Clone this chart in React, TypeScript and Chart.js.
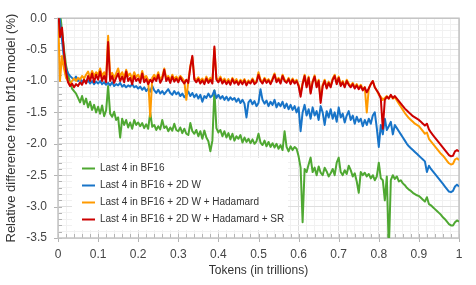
import React, { useEffect, useRef } from 'react';
import { Chart, registerables } from 'chart.js';

Chart.register(...registerables);

// ---- data ----
const TOKENS = [
  0, 0.005, 0.01, 0.015, 0.02, 0.025, 0.03, 0.035, 0.04, 0.045, 0.05, 0.055, 0.06, 0.065, 0.07, 0.075, 0.08, 0.085, 0.09, 0.095,
  0.1, 0.105, 0.11, 0.115, 0.12, 0.125, 0.13, 0.135, 0.14, 0.145, 0.15, 0.155, 0.16, 0.165, 0.17, 0.175, 0.18, 0.185, 0.19, 0.195,
  0.2, 0.205, 0.21, 0.215, 0.22, 0.225, 0.23, 0.235, 0.24, 0.245, 0.25, 0.255, 0.26, 0.265, 0.27, 0.275, 0.28, 0.285, 0.29, 0.295,
  0.3, 0.305, 0.31, 0.315, 0.32, 0.325, 0.33, 0.335, 0.34, 0.345, 0.35, 0.355, 0.36, 0.365, 0.37, 0.375, 0.38, 0.385, 0.39, 0.395,
  0.4, 0.405, 0.41, 0.415, 0.42, 0.425, 0.43, 0.435, 0.44, 0.445, 0.45, 0.455, 0.46, 0.465, 0.47, 0.475, 0.48, 0.485, 0.49, 0.495,
  0.5, 0.505, 0.51, 0.515, 0.52, 0.525, 0.53, 0.535, 0.54, 0.545, 0.55, 0.555, 0.56, 0.565, 0.57, 0.575, 0.58, 0.585, 0.59, 0.595,
  0.6, 0.605, 0.61, 0.615, 0.62, 0.625, 0.63, 0.635, 0.64, 0.645, 0.65, 0.655, 0.66, 0.665, 0.67, 0.675, 0.68, 0.685, 0.69, 0.695,
  0.7, 0.705, 0.71, 0.715, 0.72, 0.725, 0.73, 0.735, 0.74, 0.745, 0.75, 0.755, 0.76, 0.765, 0.77, 0.775, 0.78, 0.785, 0.79, 0.795,
  0.8, 0.805, 0.81, 0.815, 0.82, 0.825, 0.83, 0.835, 0.84, 0.845, 0.85, 0.855, 0.86, 0.865, 0.87, 0.875, 0.88, 0.885, 0.89, 0.895,
  0.9, 0.905, 0.91, 0.915, 0.92, 0.925, 0.93, 0.935, 0.94, 0.945, 0.95, 0.955, 0.96, 0.965, 0.97, 0.975, 0.98, 0.985, 0.99, 0.995,
  1.0,
];

const GREEN_BF16 = [
  0.3, 0.1, -0.2, -0.5, -0.75, -0.9, -1.02, -1.12, -1.16, -1.2, -1.27, -1.34, -1.24, -1.37, -1.28, -1.42, -1.33, -1.46, -1.38, -1.5,
  -1.41, -1.52, -1.39, -1.56, -1.47, -1.08, -1.52, -1.57, -1.49, -1.62, -1.58, -1.9, -1.6, -1.7, -1.62, -1.74, -1.66, -1.76, -1.62, -1.7,
  -1.66, -1.72, -1.67, -1.75, -1.69, -1.76, -1.5, -1.73, -1.7, -1.78, -1.72, -1.77, -1.62, -1.75, -1.72, -1.8, -1.74, -1.79, -1.68, -1.78,
  -1.8, -1.74, -1.83, -1.76, -1.84, -1.86, -1.67, -1.8, -1.84, -1.78, -1.88, -1.8, -1.92, -1.79, -1.9, -1.96, -2.12, -1.95, -1.15, -1.75,
  -1.82, -1.78, -1.88, -1.8, -1.9, -1.83, -1.93, -1.84, -1.95, -1.88, -1.92, -1.86, -1.98, -1.9, -1.97, -1.92, -1.99, -1.93, -2.0, -1.96,
  -1.84, -1.98, -2.02, -1.95, -2.04, -1.97, -2.05, -1.99, -2.06, -2.0, -2.08, -2.02, -2.1, -1.8, -2.05, -2.12, -2.04, -2.1, -2.05, -2.08,
  -2.2, -2.38, -3.25, -2.4, -2.45, -2.33, -2.22, -2.45, -2.38, -2.5, -2.36, -2.46, -2.5, -2.38, -2.44, -2.52, -2.47, -2.4, -2.5, -2.3,
  -2.22, -2.45, -2.5, -2.42, -2.48, -2.35, -2.42, -2.52, -2.47, -2.6, -2.78, -2.45, -2.5, -2.46, -2.52, -2.48, -2.55, -2.5, -2.58, -2.52,
  -2.3, -2.55, -2.58, -2.9, -2.52, -3.7, -2.58, -2.5, -2.56, -2.52, -2.6, -2.58, -2.63, -2.66, -2.7, -2.73, -2.75, -2.78, -2.8, -2.82,
  -2.83, -2.86, -2.89, -2.92, -2.85, -2.96, -2.98, -3.01, -3.04, -3.07, -3.1, -3.13, -3.17, -3.2, -3.24, -3.28, -3.3, -3.3, -3.25, -3.22,
  -3.24,
];

const BLUE_2DW = [
  0.3, -0.05, -0.35, -0.65, -0.8, -0.88, -0.92, -0.95, -0.98, -0.93, -1.0, -0.96, -1.02, -0.98, -1.03, -0.99, -1.04, -1.0, -1.05, -1.01,
  -1.04, -1.0, -1.05, -1.02, -1.06, -1.03, -1.07, -1.02, -1.08, -1.05, -1.07, -1.03, -1.09, -1.06, -1.1, -1.07, -1.09, -1.05, -1.1, -1.08,
  -1.12, -1.09, -1.14, -1.1, -1.16, -1.12, -1.17, -1.08, -1.15, -1.19, -1.14, -1.2, -1.16, -1.21, -1.17, -1.13, -1.19, -1.22, -1.16, -1.21,
  -1.18, -1.24, -1.2, -1.26, -1.22, -1.17, -1.24, -1.19, -1.26, -1.21, -1.28, -1.22, -1.33, -1.24, -1.27, -1.2, -1.26, -1.23, -1.15, -1.27,
  -1.22, -1.28, -1.24, -1.3, -1.25, -1.31, -1.26, -1.3, -1.27, -1.33, -1.28, -1.35, -1.3, -1.36, -1.58, -1.34, -1.3, -1.37, -1.32, -1.4,
  -1.35, -1.13, -1.3, -1.36, -1.31, -1.4, -1.33, -1.38, -1.3, -1.42, -1.35, -1.4, -1.33, -1.43, -1.36, -1.45, -1.38, -1.46, -1.4, -1.5,
  -1.42, -1.8, -1.5, -1.38, -1.55, -1.45, -1.6, -1.42, -1.55, -1.48, -1.62, -1.4, -1.5, -1.7, -1.48, -1.58, -1.45, -1.6, -1.5, -1.65,
  -1.42, -1.58, -1.52, -1.66, -1.55, -1.48, -1.62, -1.55, -1.68, -1.57, -1.65, -1.6, -1.72, -1.62, -1.7, -1.6, -1.68, -1.55, -1.5, -1.75,
  -2.05, -1.7, -1.85, -1.6, -1.78, -1.72, -1.65, -1.85, -1.7, -1.75, -1.8, -1.85, -1.9, -1.95, -2.0, -2.04, -2.07, -2.1, -2.13, -2.16,
  -2.19, -2.22, -2.25, -2.28, -2.45, -2.35, -2.4, -2.44, -2.48, -2.52, -2.56, -2.6, -2.64, -2.68, -2.72, -2.76, -2.77, -2.75, -2.68, -2.65,
  -2.68,
];

const ORANGE_HADAMARD = [
  0.1, -1.0, -0.6, -0.8, -0.95, -1.0, -1.04, -1.0, -0.96, -1.0, -0.95, -0.98, -0.92, -0.96, -0.9, -0.85, -0.94, -0.84, -0.92, -0.86,
  -0.9, -0.8, -0.92, -0.86, -0.95, -0.28, -0.92, -0.87, -0.95, -0.88, -0.8, -0.93, -0.86, -0.95, -0.82, -0.92, -0.88, -0.97, -0.86, -0.94,
  -0.9, -0.97, -0.84, -0.96, -0.92, -0.99, -1.57, -0.95, -0.9, -0.96, -0.86, -0.98, -0.93, -0.8, -0.96, -0.92, -0.99, -0.9, -0.97, -0.93,
  -0.98, -0.92, -0.96, -1.0, -1.3, -1.0, -0.76, -0.62, -0.95, -0.99, -0.94, -1.0, -0.96, -1.02, -0.93, -1.0, -0.95, -1.01, -0.48, -0.95,
  -0.99, -0.93, -1.01, -0.96, -1.02, -0.97, -1.03, -0.95, -1.01, -0.97, -1.04, -0.98, -1.02, -0.97, -1.04, -0.99, -1.02, -0.96, -1.02, -1.0,
  -0.86, -0.98, -1.01, -0.95, -1.0, -0.97, -1.03, -0.96, -0.88, -1.0, -0.95, -1.02, -0.9, -0.98, -1.01, -0.95, -1.03, -0.96, -1.02, -0.98,
  -1.06, -1.2, -1.03, -0.9, -1.08, -0.93, -1.18, -1.0, -0.91, -1.08, -0.98, -1.3, -1.06, -0.98, -1.1, -1.01, -1.08, -0.96, -0.9, -1.03,
  -0.93, -1.06, -1.0, -1.08, -0.98, -1.04, -1.08, -1.03, -1.1, -1.05, -1.11, -1.06, -1.13, -1.1, -1.5, -1.12, -1.05, -1.0, -1.1, -1.15,
  -1.22, -1.25, -1.3, -1.27, -1.24, -1.28, -1.23, -1.28, -1.26, -1.31, -1.36, -1.41, -1.46, -1.51, -1.55, -1.59, -1.62, -1.65, -1.68, -1.7,
  -1.72, -1.76, -1.8, -1.84, -1.82, -1.92, -1.96, -2.0, -2.04, -2.08, -2.12, -2.16, -2.19, -2.23, -2.27, -2.31, -2.33, -2.32, -2.25, -2.23,
  -2.26,
];

const RED_HADAMARD_SR = [
  0.2, -0.3, -0.15, -0.55, -0.85, -1.02, -1.08, -1.04, -1.1, -1.05, -1.08, -1.02, -1.06, -0.98, -1.04, -0.92, -1.0, -0.88, -1.02, -0.9,
  -0.98, -0.85, -1.0, -0.92, -1.02, -0.38, -1.0, -0.92, -1.03, -0.95, -0.88, -1.0, -0.93, -1.02, -0.85, -1.0, -0.95, -1.05, -0.92, -1.0,
  -0.96, -1.03, -0.88, -1.02, -0.97, -1.05, -0.98, -1.02, -0.95, -1.0, -0.9, -1.03, -0.97, -0.82, -1.0, -0.95, -1.03, -0.93, -1.01, -0.96,
  -1.02, -0.94, -1.0, -1.04, -0.98, -1.03, -0.78, -0.6, -0.98, -1.02, -0.97, -1.04, -0.99, -1.05, -0.96, -1.03, -0.98, -1.04, -0.45, -0.98,
  -1.02, -0.96, -1.04, -0.99, -1.05, -1.0, -1.06, -0.97, -1.04, -1.0, -1.06, -1.0, -1.05, -0.99, -1.07, -1.01, -1.04, -0.98, -1.05, -1.02,
  -0.9, -1.0, -1.04, -0.97, -1.03, -0.99, -1.05, -0.98, -0.9, -1.02, -0.97, -1.04, -0.92, -1.0, -1.03, -0.97, -1.05, -0.98, -1.04, -1.0,
  -1.08, -1.25, -1.05, -0.92, -1.1, -0.95, -1.2, -1.02, -0.93, -1.1, -1.0, -1.35, -1.08, -1.0, -1.12, -1.03, -1.1, -0.98, -0.92, -1.05,
  -0.95, -1.08, -1.02, -1.1, -1.0, -1.06, -1.1, -1.05, -1.12, -1.07, -1.13, -1.08, -1.15, -1.1, -1.18, -1.12, -1.05, -1.0, -1.1, -1.15,
  -1.2, -1.28, -1.76, -1.3, -1.25, -1.28, -1.22, -1.27, -1.24, -1.28, -1.32, -1.36, -1.4, -1.44, -1.47, -1.5, -1.53, -1.56, -1.58, -1.6,
  -1.62, -1.65, -1.68, -1.71, -1.68, -1.77, -1.82, -1.86, -1.9, -1.94, -1.98, -2.02, -2.06, -2.1, -2.14, -2.18, -2.2, -2.19, -2.12, -2.1,
  -2.12,
];

const SERIES_LABELS = [
  'Last 4 in BF16',
  'Last 4 in BF16 + 2D W',
  'Last 4 in BF16 + 2D W + Hadamard',
  'Last 4 in BF16 + 2D W + Hadamard + SR',
];
const SERIES_COLORS = ['#4fa832', '#1874c8', '#ff9a00', '#cc0000'];

const X_TICK_VALUES = [0, 0.1, 0.2, 0.3, 0.4, 0.5, 0.6, 0.7, 0.8, 0.9, 1];
const X_TICK_LABELS = ['0', '0.1', '0.2', '0.3', '0.4', '0.5', '0.6', '0.7', '0.8', '0.9', '1'];
const Y_TICK_VALUES = [0, -0.5, -1, -1.5, -2, -2.5, -3, -3.5];
const Y_TICK_LABELS = ['0.0', '-0.5', '-1.0', '-1.5', '-2.0', '-2.5', '-3.0', '-3.5'];

const X_TITLE = 'Tokens (in trillions)';
const Y_TITLE = 'Relative difference from bf16 model (%)';

const FONT = "'Liberation Sans', Arial, sans-serif";

const isMajor = (v: number, list: number[]) => list.some((m) => Math.abs(m - v) < 1e-6);

const framePlugin = {
  id: 'frameAndTicks',
  beforeDatasetsDraw(chart: any) {
    const { ctx, chartArea } = chart;
    const { left, right, top, bottom } = chartArea;
    const xs = chart.scales.x;
    const ys = chart.scales.y;
    ctx.save();
    ctx.strokeStyle = '#b4b4b4';
    ctx.lineWidth = 1;
    ctx.beginPath();
    xs.ticks.forEach((t: any) => {
      const px = Math.round(xs.getPixelForValue(t.value)) + 0.5;
      const major = isMajor(t.value, X_TICK_VALUES);
      ctx.moveTo(px, bottom - 4);
      ctx.lineTo(px, major ? bottom + 4 : bottom);
    });
    ys.ticks.forEach((t: any) => {
      const py = Math.round(ys.getPixelForValue(t.value)) + 0.5;
      const major = isMajor(t.value, Y_TICK_VALUES);
      ctx.moveTo(left + 4, py);
      ctx.lineTo(major ? left - 4 : left, py);
    });
    ctx.stroke();
    ctx.strokeStyle = '#c4c4c4';
    ctx.lineWidth = 1.5;
    ctx.strokeRect(left, top, right - left, bottom - top);
    ctx.restore();
  },
};

const legendPlugin = {
  id: 'insideLegend',
  afterDatasetsDraw(chart: any) {
    const { ctx, chartArea } = chart;
    const boxL = chartArea.left + 14;
    const boxT = chartArea.bottom - 80;
    const boxW = 216;
    const boxH = 72;
    ctx.save();
    ctx.fillStyle = '#ffffff';
    ctx.fillRect(boxL, boxT, boxW, boxH);
    ctx.font = `10px ${FONT}`;
    ctx.textBaseline = 'middle';
    ctx.textAlign = 'left';
    SERIES_LABELS.forEach((label, i) => {
      const y = boxT + 10.5 + i * 17;
      ctx.strokeStyle = SERIES_COLORS[i];
      ctx.lineWidth = 2;
      ctx.beginPath();
      ctx.moveTo(boxL + 10, y);
      ctx.lineTo(boxL + 23, y);
      ctx.stroke();
      ctx.fillStyle = '#333333';
      ctx.fillText(label, boxL + 28, y);
    });
    ctx.restore();
  },
};

export default function App() {
  const canvasRef = useRef<HTMLCanvasElement | null>(null);

  useEffect(() => {
    if (!canvasRef.current) return;
    const seriesValues = [GREEN_BF16, BLUE_2DW, ORANGE_HADAMARD, RED_HADAMARD_SR];
    const datasets = seriesValues.map((vals, i) => ({
      label: SERIES_LABELS[i],
      data: TOKENS.map((t, j) => ({ x: t, y: vals[j] })),
      borderColor: SERIES_COLORS[i],
      backgroundColor: SERIES_COLORS[i],
      borderWidth: 2,
      pointRadius: 0,
      tension: 0,
      fill: false,
      order: 4 - i,
      borderJoinStyle: 'round' as const,
    }));

    const chart = new Chart(canvasRef.current, {
      type: 'line',
      data: { datasets },
      options: {
        animation: false,
        responsive: false,
        maintainAspectRatio: false,
        layout: { padding: { top: 7, right: 17, left: 0, bottom: 0 } },
        plugins: {
          legend: { display: false },
          tooltip: { enabled: false },
        },
        scales: {
          x: {
            type: 'linear',
            min: 0,
            max: 1,
            afterBuildTicks: (scale: any) => {
              const ticks = [];
              for (let i = 0; i <= 50; i++) ticks.push({ value: i / 50 });
              scale.ticks = ticks;
            },
            afterFit: (scale: any) => {
              scale.height = 47;
            },
            ticks: {
              autoSkip: false,
              maxRotation: 0,
              padding: 9,
              color: '#444444',
              font: { family: FONT, size: 12 },
              callback: (value: any) => {
                const idx = X_TICK_VALUES.findIndex((m) => Math.abs(m - value) < 1e-6);
                return idx >= 0 ? X_TICK_LABELS[idx] : '';
              },
            },
            grid: {
              drawTicks: false,
              color: (ctx: any) => (ctx.tick && isMajor(ctx.tick.value, X_TICK_VALUES) ? '#dedede' : '#f1f1f1'),
            },
            border: { display: false },
            title: {
              display: true,
              text: X_TITLE,
              color: '#333333',
              font: { family: FONT, size: 12 },
              padding: { top: 0, bottom: 7 },
            },
          },
          y: {
            type: 'linear',
            min: -3.5,
            max: 0,
            afterBuildTicks: (scale: any) => {
              const ticks = [];
              for (let i = 35; i >= 0; i--) ticks.push({ value: -i / 10 });
              scale.ticks = ticks;
            },
            afterFit: (scale: any) => {
              scale.width = 58;
            },
            ticks: {
              autoSkip: false,
              padding: 11,
              color: '#444444',
              font: { family: FONT, size: 12 },
              callback: (value: any) => {
                const idx = Y_TICK_VALUES.findIndex((m) => Math.abs(m - value) < 1e-6);
                return idx >= 0 ? Y_TICK_LABELS[idx] : '';
              },
            },
            grid: {
              drawTicks: false,
              color: (ctx: any) => (ctx.tick && isMajor(ctx.tick.value, Y_TICK_VALUES) ? '#dedede' : '#f1f1f1'),
            },
            border: { display: false },
            title: {
              display: true,
              text: Y_TITLE,
              color: '#333333',
              font: { family: FONT, size: 13 },
              padding: { top: 4, bottom: 0 },
            },
          },
        },
      },
      plugins: [framePlugin, legendPlugin],
    });

    return () => chart.destroy();
  }, []);

  return (
    <div style={{ position: 'fixed', left: 0, top: 0, width: 476, height: 285, background: '#ffffff' }}>
      <canvas ref={canvasRef} width={476} height={285} style={{ display: 'block' }} />
    </div>
  );
}
